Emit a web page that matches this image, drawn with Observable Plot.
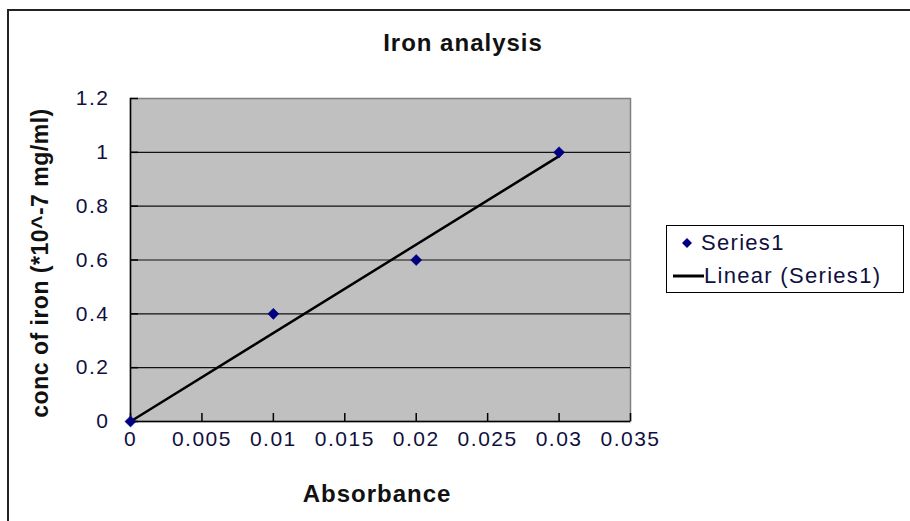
<!DOCTYPE html>
<html><head><meta charset="utf-8">
<script src="https://cdn.jsdelivr.net/npm/d3@7"></script>
<script src="https://cdn.jsdelivr.net/npm/@observablehq/plot@0.6"></script>
<style>
body{margin:0;background:#fff;}
#wrap{position:relative;width:910px;height:521px;overflow:hidden;font-family:"Liberation Sans",Arial,sans-serif;color:#111;}
#wrap svg.plot{position:absolute;left:0;top:0;}
.frame{position:absolute;left:7px;top:9px;width:920px;height:530px;border-left:2px solid #222;border-top:2px solid #222;}
.title{position:absolute;left:0;width:926px;top:29px;text-align:center;font-weight:bold;font-size:24px;letter-spacing:1px;}
.xlabel{position:absolute;left:127px;width:500px;top:480px;text-align:center;font-weight:bold;font-size:24px;letter-spacing:1px;}
.ylabel{position:absolute;left:40px;top:263px;transform:translate(-50%,-50%) rotate(-90deg);white-space:nowrap;font-weight:bold;font-size:23px;letter-spacing:0.5px;}
.legend{position:absolute;left:666px;top:225px;width:236px;height:66px;border:1.5px solid #000;background:#fff;font-size:22px;letter-spacing:1.3px;color:#101040;}
.legend .row{position:absolute;left:0;height:26px;display:flex;align-items:center;}
.legend svg{display:block;}
</style></head><body><div id="wrap"></div>
<script>
const absorbance = [0, 0.01, 0.02, 0.03];
const concentration = [0, 0.4, 0.6, 1.0];
const trendAbsorbance = [0, 0.03];
const trendConcentration = [0, 0.986];
const xTicks = [0, 0.005, 0.01, 0.015, 0.02, 0.025, 0.03, 0.035];
const xTickLabels = ["0", "0.005", "0.01", "0.015", "0.02", "0.025", "0.03", "0.035"];
const yTicks = [0, 0.2, 0.4, 0.6, 0.8, 1.0, 1.2];
const yTickLabels = ["0", "0.2", "0.4", "0.6", "0.8", "1", "1.2"];
const gridValues = [0.2, 0.4, 0.6, 0.8, 1.0];
const titleText = "Iron analysis";
const xLabelText = "Absorbance";
const yLabelText = "conc of iron (*10^-7 mg/ml)";
const seriesName = "Series1";
const trendName = "Linear (Series1)";

const points = absorbance.map((x, i) => ({x, y: concentration[i]}));
const trend = trendAbsorbance.map((x, i) => ({x, y: trendConcentration[i]}));

const plot = Plot.plot({
  width: 910, height: 521,
  marginLeft: 130, marginRight: 280, marginTop: 98, marginBottom: 100,
  x: {domain: [0, 0.035], axis: null},
  y: {domain: [0, 1.2], axis: null},
  style: {fontFamily: '"Liberation Sans", Arial, sans-serif', background: "transparent", overflow: "visible"},
  marks: [
    Plot.frame({fill: "#c0c0c0", stroke: "#808080", strokeWidth: 1.5}),
    Plot.ruleY(gridValues, {stroke: "#111", strokeWidth: 1.2}),
    Plot.ruleX([0], {stroke: "#000", strokeWidth: 1.5}),
    Plot.ruleY([0], {stroke: "#000", strokeWidth: 1.5}),
    Plot.tickX(xTicks, {x: d => d, stroke: "#000", strokeWidth: 1.5, insetTop: 315}),
    Plot.tickY(yTicks, {y: d => d, stroke: "#000", strokeWidth: 1.5, insetRight: 492}),
    Plot.axisX({ticks: xTicks, tickSize: 0, tickPadding: 10, tickFormat: (d, i) => xTickLabels[i], fontSize: 21, fill: "#101040", label: null}),
    Plot.axisY({ticks: yTicks, tickSize: 0, tickPadding: 21, tickFormat: (d, i) => yTickLabels[i], fontSize: 21, fill: "#101040", label: null}),
    Plot.line(trend, {x: "x", y: "y", stroke: "#000", strokeWidth: 2.5}),
    Plot.dot(points, {x: "x", y: "y", symbol: "diamond2", r: 5, fill: "#000080", stroke: "#000080", strokeWidth: 0.5})
  ]
});
plot.classList.add("plot");
plot.querySelectorAll("text").forEach(t => t.setAttribute("letter-spacing", "1.5"));

const wrap = document.getElementById("wrap");
wrap.appendChild(plot);
wrap.insertAdjacentHTML("beforeend", `
  <div class="frame"></div>
  <div class="title">${titleText}</div>
  <div class="xlabel">${xLabelText}</div>
  <div class="ylabel">${yLabelText}</div>
  <div class="legend">
    <div class="row" style="top:4px;left:10px"><svg width="20" height="20"><path d="M10,5 L15,10 L10,15 L5,10 Z" fill="#000080"/></svg><span style="margin-left:4px">${seriesName}</span></div>
    <div class="row" style="top:37px;left:5px"><svg width="32" height="20"><line x1="1" y1="10" x2="32" y2="10" stroke="#000" stroke-width="3"/></svg><span>${trendName}</span></div>
  </div>`);
</script>
</body></html>
